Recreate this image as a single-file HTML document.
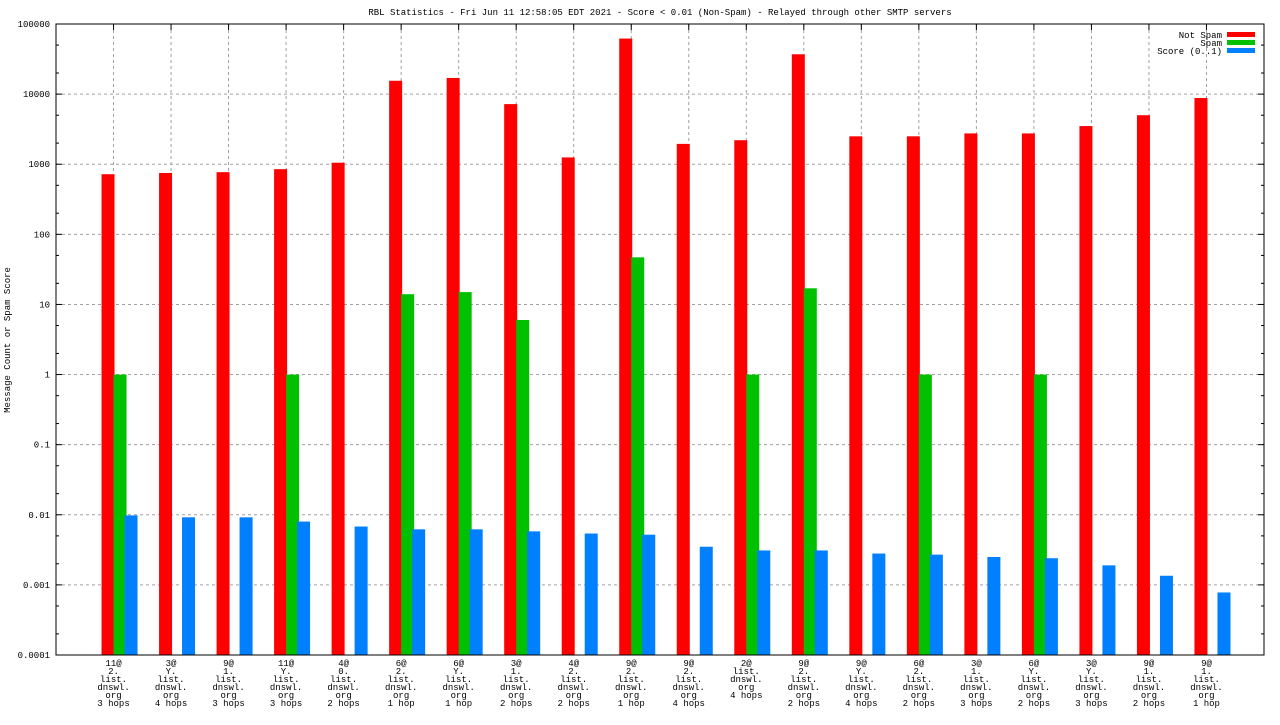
<!DOCTYPE html>
<html><head><meta charset="utf-8"><style>body{margin:0;background:#fff}svg text{font-family:"Liberation Mono",monospace;font-size:9px;fill:#000}</style></head>
<body>
<svg id="c" width="1280" height="720" xmlns="http://www.w3.org/2000/svg">
<text x="660" y="15" text-anchor="middle">RBL Statistics - Fri Jun 11 12:58:05 EDT 2021 - Score &lt; 0.01 (Non-Spam) - Relayed through other SMTP servers</text>
<text transform="translate(10,340) rotate(-90)" text-anchor="middle">Message Count or Spam Score</text>
</svg>
<script>
const categories=[["11@","2.","list.","dnswl.","org","3 hops"],["3@","Y.","list.","dnswl.","org","4 hops"],["9@","1.","list.","dnswl.","org","3 hops"],["11@","Y.","list.","dnswl.","org","3 hops"],["4@","0.","list.","dnswl.","org","2 hops"],["6@","2.","list.","dnswl.","org","1 hop"],["6@","Y.","list.","dnswl.","org","1 hop"],["3@","1.","list.","dnswl.","org","2 hops"],["4@","2.","list.","dnswl.","org","2 hops"],["9@","2.","list.","dnswl.","org","1 hop"],["9@","2.","list.","dnswl.","org","4 hops"],["2@","list.","dnswl.","org","4 hops"],["9@","2.","list.","dnswl.","org","2 hops"],["9@","Y.","list.","dnswl.","org","4 hops"],["6@","2.","list.","dnswl.","org","2 hops"],["3@","1.","list.","dnswl.","org","3 hops"],["6@","Y.","list.","dnswl.","org","2 hops"],["3@","Y.","list.","dnswl.","org","3 hops"],["9@","1.","list.","dnswl.","org","2 hops"],["9@","1.","list.","dnswl.","org","1 hop"]];
const notSpam=[720,750,770,850,1050,15500,17000,7200,1250,62000,1950,2200,37000,2500,2500,2750,2750,3500,5000,8800];
const spam=[1,0,0,1,0,14,15,6,0,47,0,1,17,0,1,0,1,0,0,0];
const score=[0.0098,0.0092,0.0092,0.008,0.0068,0.0062,0.0062,0.0058,0.0054,0.0052,0.0035,0.0031,0.0031,0.0028,0.0027,0.0025,0.0024,0.0019,0.00135,0.00078];
const yTicks=["0.0001","0.001","0.01","0.1","1","10","100","1000","10000","100000"];
const svg=document.getElementById('c');const NS='http://www.w3.org/2000/svg';
const L=56,R=1264,T=24,B=655;
function y(v){return B-(Math.log10(v)+4)*(B-T)/9;}
function x(i){return L+(i+1)*(R-L)/(categories.length+1);}
function mk(t,a,p){const e=document.createElementNS(NS,t);for(const k in a)e.setAttribute(k,a[k]);(p||svg).appendChild(e);return e;}
yTicks.forEach((t,k)=>{const yy=y(+t);
 if(k>0&&k<yTicks.length-1){const g=mk('line',{x1:L,x2:R,y1:yy,y2:yy,stroke:'#a0a0a0','stroke-dasharray':'3,3'});
 
 }
 const tx=mk('text',{x:L-6,y:yy+3,'text-anchor':'end'});tx.textContent=t;
 
 
 mk('line',{x1:L,x2:L+6,y1:yy,y2:yy,stroke:'#000'});mk('line',{x1:R,x2:R-6,y1:yy,y2:yy,stroke:'#000'});
 if(k<yTicks.length-1)[2,5].forEach(m=>{const my=y(+t*m);mk('line',{x1:L,x2:L+3,y1:my,y2:my,stroke:'#000'});mk('line',{x1:R,x2:R-3,y1:my,y2:my,stroke:'#000'});});
});
categories.forEach((c,i)=>{const cx=x(i);
 const g=mk('line',{x1:cx,x2:cx,y1:T,y2:B,stroke:'#a0a0a0','stroke-dasharray':'3,3'});
 
 
 mk('line',{x1:cx,x2:cx,y1:T,y2:T+6,stroke:'#000'});mk('line',{x1:cx,x2:cx,y1:B,y2:B-6,stroke:'#000'});
 c.forEach((s,j)=>{const t=mk('text',{x:cx,y:666+j*8,'text-anchor':'middle'});t.textContent=s;
  
  });
 [[notSpam[i],'#ff0000',-12,'bar-not-spam'],[spam[i],'#00c000',0,'bar-spam'],[score[i],'#0080ff',11,'bar-score']].forEach(([v,col,off,nm])=>{
  if(v>0){const r=mk('rect',{x:cx+off,y:y(v),width:13,height:B-y(v),fill:col});
  
  }});
});
const fr=mk('rect',{x:L,y:T,width:R-L,height:B-T,fill:'none',stroke:'#000'});


[['Not Spam','#ff0000'],['Spam','#00c000'],['Score (0..1)','#0080ff']].forEach(([n,col],k)=>{
 const t=mk('text',{x:1222,y:38+k*8,'text-anchor':'end'});t.textContent=n;
 
 
 const r=mk('rect',{x:1227,y:32+k*8,width:28,height:5,fill:col});
 
 });
</script>
</body></html>
